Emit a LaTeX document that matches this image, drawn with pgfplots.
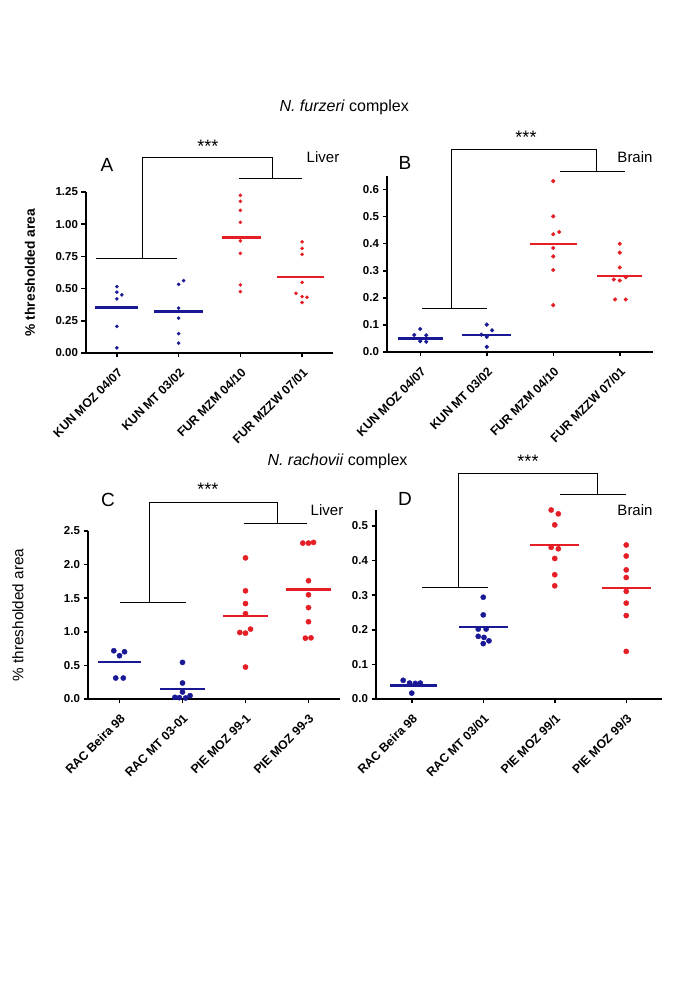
\documentclass[border=0pt]{standalone}
\usepackage{pgfplots}
\pgfplotsset{compat=1.18}
\usepackage{fontspec}
\setmainfont{Liberation Sans}
\definecolor{myblue}{RGB}{25,25,150}
\definecolor{myred}{RGB}{228,30,36}
\pgfplotsset{
 panel/.style={
  scale only axis, clip=false, anchor=south west,
  axis lines=left, axis line style={-, line width=2.1pt},
  xmin=0.5, xmax=4.5, ymin=0,
  xtick={1,2,3,4},
  tick style={line width=1.5pt, black},
  major tick length=4.5pt,
  tick align=outside,
  yticklabel style={font=\bfseries\fontsize{11.5}{13}\selectfont, /pgf/number format/fixed, /pgf/number format/fixed zerofill},
  xticklabel style={rotate=45, anchor=north east, inner sep=1pt, font=\bfseries\fontsize{12.3}{13}\selectfont},
  xticklabel shift=8pt,
  /pgf/number format/assume math mode=true,
 },
 bdot/.style={only marks, mark=*, mark options={fill=myblue, draw=myblue}, color=myblue},
 rdot/.style={only marks, mark=*, mark options={fill=myred, draw=myred}, color=myred},
 bline/.style={myblue, line width=2.2pt, no marks},
 rline/.style={myred, line width=2.2pt, no marks},
 brk/.style={black, line width=0.7pt, no marks},
}
\begin{document}
\begin{tikzpicture}
\path[use as bounding box] (0pt,0pt) rectangle (685pt,989pt);
% ---------- Panel A ----------
\begin{axis}[panel, at={(86pt,636pt)}, width=247pt, height=161pt,
  ymax=1.25, ytick={0,0.25,0.5,0.75,1,1.25},
  yticklabel style={/pgf/number format/precision=2},
  xticklabels={KUN MOZ 04/07, KUN MT 03/02, FUR MZM 04/10, FUR MZZW 07/01},
  ylabel={\% thresholded area},
  ylabel style={at={(axis description cs:-0.227,0.5)}, anchor=center, font=\bfseries\fontsize{13.8}{15}\selectfont}]
\addplot[bdot, mark size=1.6pt] coordinates {(1,0.515) (1,0.472) (1.08,0.451) (1,0.42) (1,0.206) (1,0.039)
 (2.08,0.562) (2,0.533) (2,0.348) (2,0.27) (2,0.15) (2,0.077)};
\addplot[rdot, mark size=1.6pt] coordinates {(3,1.224) (3,1.178) (3,1.108) (3,1.015) (3,0.894) (3,0.871) (3,0.773) (3,0.528) (3,0.477)
 (4,0.863) (4,0.812) (4,0.765) (4,0.549) (3.9,0.464) (4,0.438) (4.08,0.433) (4,0.392)};
\addplot[bline] coordinates {(0.65,0.353) (1.35,0.353)};
\addplot[bline] coordinates {(1.6,0.322) (2.4,0.322)};
\addplot[rline] coordinates {(2.7,0.896) (3.33,0.896)};
\addplot[rline] coordinates {(3.6,0.59) (4.35,0.59)};
\addplot[brk] coordinates {(0.67,0.736) (1.98,0.736)};
\addplot[brk] coordinates {(1.41,0.736) (1.41,1.52) (3.51,1.52) (3.51,1.357)};
\addplot[brk] coordinates {(2.97,1.357) (4.0,1.357)};
\end{axis}
% ---------- Panel B ----------
\begin{axis}[panel, at={(387pt,637pt)}, width=266pt, height=176pt,
  ymax=0.65, ytick={0,0.1,0.2,0.3,0.4,0.5,0.6},
  yticklabel style={/pgf/number format/precision=1},
  xticklabels={KUN MOZ 04/07, KUN MT 03/02, FUR MZM 04/10, FUR MZZW 07/01}]
\addplot[bdot, mark size=1.9pt] coordinates {(1,0.085) (0.91,0.063) (1.09,0.062) (1,0.04) (1.09,0.038)
 (2,0.101) (2.08,0.08) (1.92,0.064) (2,0.056) (2,0.019)};
\addplot[rdot, mark size=1.9pt] coordinates {(3,0.631) (3,0.501) (3,0.435) (3.09,0.443) (3,0.384) (3,0.353) (3,0.303) (3,0.173)
 (4,0.40) (4,0.367) (4,0.312) (3.91,0.268) (4,0.264) (4.09,0.276) (3.93,0.194) (4.09,0.194)};
\addplot[bline] coordinates {(0.66,0.05) (1.34,0.05)};
\addplot[bline] coordinates {(1.63,0.064) (2.37,0.064)};
\addplot[rline] coordinates {(2.65,0.40) (3.35,0.40)};
\addplot[rline] coordinates {(3.66,0.282) (4.34,0.282)};
\addplot[brk] coordinates {(1.03,0.162) (2.0,0.162)};
\addplot[brk] coordinates {(1.47,0.162) (1.47,0.749) (3.65,0.749) (3.65,0.668)};
\addplot[brk] coordinates {(3.1,0.668) (4.08,0.668)};
\end{axis}
% ---------- Panel C ----------
\begin{axis}[panel, at={(88pt,290pt)}, width=252pt, height=168pt,
  ymax=2.5, ytick={0,0.5,1,1.5,2,2.5},
  yticklabel style={/pgf/number format/precision=1},
  xticklabels={RAC Beira 98, RAC MT 03-01, PIE MOZ 99-1, PIE MOZ 99-3},
  ylabel={\% thresholded area},
  ylabel style={at={(axis description cs:-0.278,0.5)}, anchor=center, font=\fontsize{15.3}{17}\selectfont}]
\addplot[bdot, mark size=2.6pt] coordinates {(0.91,0.718) (1.08,0.703) (1,0.644) (0.94,0.312) (1.06,0.312)
 (2,0.545) (2,0.238) (2,0.104) (2.12,0.05) (1.88,0.025) (1.95,0.02) (2.05,0.015)};
\addplot[rdot, mark size=2.6pt] coordinates {(3,2.10) (3,1.61) (3,1.42) (3,1.27) (2.91,0.99) (3,0.98) (3.08,1.04) (3,0.475)
 (3.91,2.32) (4,2.32) (4.08,2.33) (4,1.76) (4,1.55) (4,1.36) (4,1.15) (3.95,0.905) (4.04,0.91)};
\addplot[bline] coordinates {(0.66,0.55) (1.34,0.55)};
\addplot[bline] coordinates {(1.65,0.149) (2.35,0.149)};
\addplot[rline] coordinates {(2.65,1.24) (3.35,1.24)};
\addplot[rline] coordinates {(3.65,1.63) (4.35,1.63)};
\addplot[brk] coordinates {(1.0,1.44) (2.05,1.44)};
\addplot[brk] coordinates {(1.48,1.44) (1.48,2.92) (3.5,2.92) (3.5,2.61)};
\addplot[brk] coordinates {(2.97,2.61) (3.98,2.61)};
\end{axis}
% ---------- Panel D ----------
\begin{axis}[panel, at={(376pt,290pt)}, width=286pt, height=189pt,
  ymax=0.546, ytick={0,0.1,0.2,0.3,0.4,0.5},
  yticklabel style={/pgf/number format/precision=1},
  xticklabels={RAC Beira 98, RAC MT 03/01, PIE MOZ 99/1, PIE MOZ 99/3}]
\addplot[bdot, mark size=2.6pt] coordinates {(0.88,0.054) (0.97,0.046) (1.05,0.045) (1.12,0.046) (1,0.017)
 (2,0.294) (2,0.243) (1.93,0.202) (2.04,0.202) (1.93,0.181) (2.01,0.178) (2.08,0.168) (2,0.160)};
\addplot[rdot, mark size=2.6pt] coordinates {(2.95,0.546) (3.05,0.535) (3,0.503) (2.95,0.438) (3.05,0.434) (3,0.406) (3,0.359) (3,0.327)
 (4,0.445) (4,0.413) (4,0.373) (4,0.351) (4,0.311) (4,0.277) (4,0.241) (4,0.1375)};
\addplot[bline] coordinates {(0.7,0.039) (1.36,0.039)};
\addplot[bline] coordinates {(1.66,0.208) (2.34,0.208)};
\addplot[rline] coordinates {(2.66,0.446) (3.34,0.446)};
\addplot[rline] coordinates {(3.66,0.321) (4.34,0.321)};
\addplot[brk] coordinates {(1.15,0.322) (2.06,0.322)};
\addplot[brk] coordinates {(1.65,0.322) (1.65,0.652) (3.59,0.652) (3.59,0.591)};
\addplot[brk] coordinates {(3.08,0.591) (3.99,0.591)};
\end{axis}
% ---------- annotations ----------
\node[anchor=west, font=\fontsize{16}{18}\selectfont] at (276pt,882pt) {\textit{N. furzeri} complex};
\node[anchor=west, font=\fontsize{16}{18}\selectfont] at (264pt,528pt) {\textit{N. rachovii} complex};
\node[font=\fontsize{19}{21}\selectfont] at (107pt,824pt) {A};
\node[font=\fontsize{19}{21}\selectfont] at (405pt,826pt) {B};
\node[font=\fontsize{19}{21}\selectfont] at (108pt,489pt) {C};
\node[font=\fontsize{19}{21}\selectfont] at (405pt,490pt) {D};
\node[font=\fontsize{15}{17}\selectfont] at (323pt,832pt) {Liver};
\node[font=\fontsize{15}{17}\selectfont] at (635pt,832pt) {Brain};
\node[font=\fontsize{15}{17}\selectfont] at (327pt,479pt) {Liver};
\node[font=\fontsize{15}{17}\selectfont] at (635pt,479pt) {Brain};
\node[font=\fontsize{18}{20}\selectfont] at (208pt,843pt) {***};
\node[font=\fontsize{18}{20}\selectfont] at (526pt,852pt) {***};
\node[font=\fontsize{18}{20}\selectfont] at (208pt,500pt) {***};
\node[font=\fontsize{18}{20}\selectfont] at (528pt,528pt) {***};
\end{tikzpicture}
\end{document}
